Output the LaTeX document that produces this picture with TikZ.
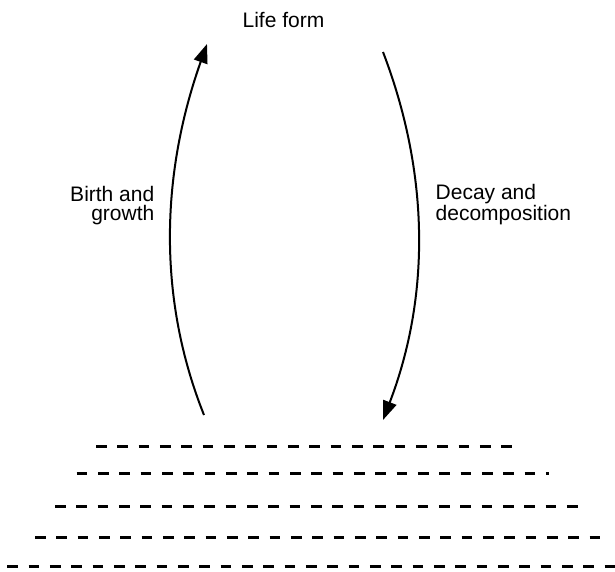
\documentclass[tikz,border=0pt]{standalone}
\usepackage{fontspec}
\setmainfont{Liberation Sans}
\usetikzlibrary{arrows.meta}
\begin{document}
\begin{tikzpicture}[x=1pt,y=-1pt,
  lbl/.style={inner sep=0pt,font=\fontsize{21}{19}\selectfont},
  cyclearrow/.style={line width=2pt,-{Triangle[length=19pt,width=14pt]}},
  ground/.style={line width=3pt,dash pattern=on 10.7pt off 10.63pt}]
\useasboundingbox (0,0) rectangle (615,571);
\node[lbl,anchor=base] (life) at (283.5,27) {Life form};
\node[lbl,anchor=base east,align=right] (birth) at (154.5,220.5) {Birth and\\growth};
\node[lbl,anchor=base west,align=left] (decay) at (435.5,220) {Decay and\\decomposition};
\coordinate (bstart) at (204,415);
\coordinate (bend) at (207,44);
\coordinate (dstart) at (383,52);
\coordinate (dend) at (383,420);
\draw[cyclearrow] (bstart) .. controls (158.6,301.3) and (159.6,177.7) .. (bend);
\draw[cyclearrow] (dstart) .. controls (430,174.7) and (430,297.3) .. (dend);
\coordinate (g1a) at (96,446);   \coordinate (g1b) at (513,446);
\coordinate (g2a) at (76.7,473.3); \coordinate (g2b) at (549,473.3);
\coordinate (g3a) at (55,506.3); \coordinate (g3b) at (578,506.3);
\coordinate (g4a) at (35,537.3); \coordinate (g4b) at (601,537.3);
\coordinate (g5a) at (7.3,566);  \coordinate (g5b) at (625,566);
\begin{scope}
\clip (0,0) rectangle (615,571);
\draw[ground] (g1a) -- (g1b);
\draw[ground] (g2a) -- (g2b);
\draw[ground] (g3a) -- (g3b);
\draw[ground] (g4a) -- (g4b);
\draw[ground] (g5a) -- (g5b);
\end{scope}
\end{tikzpicture}
\end{document}
